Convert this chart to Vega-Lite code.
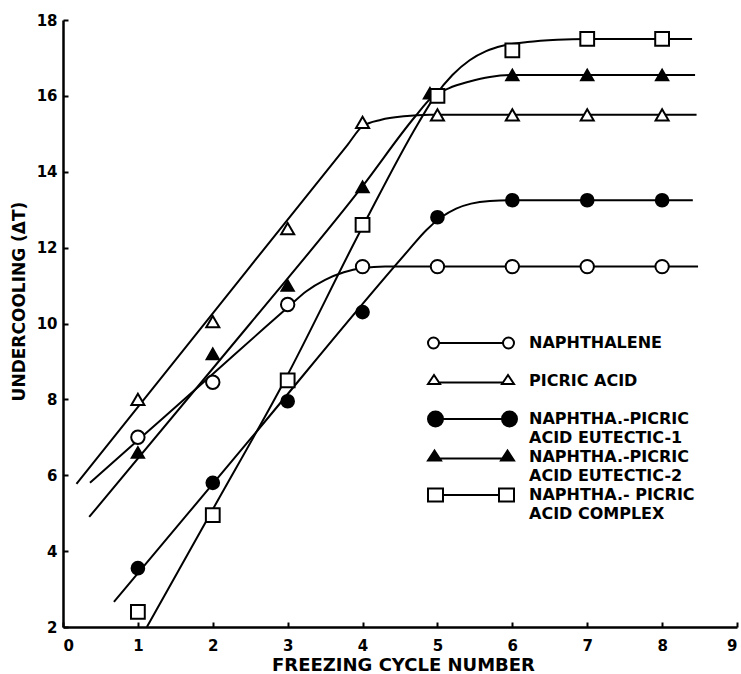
{
  "$schema": "https://vega.github.io/schema/vega-lite/v6.json",
  "width": 674,
  "height": 607,
  "autosize": "none",
  "padding": {"left": 63, "top": 20, "right": 4, "bottom": 47},
  "background": "white",
  "config": {
    "view": {"stroke": null},
    "style": {"guide-label": {"lineHeight": 19}},
    "axis": {
      "domainColor": "black", "domainWidth": 2.5, "tickColor": "black", "tickWidth": 2, "tickSize": -5,
      "labelFont": "DejaVu Sans", "labelFontWeight": "bold", "labelFontSize": 15, "labelColor": "black",
      "titleFont": "DejaVu Sans", "titleFontWeight": "bold", "titleFontSize": 17, "titleColor": "black", "grid": false
    }
  },
  "encoding": {
    "x": {"field": "cycle", "type": "quantitative", "scale": {"domain": [0, 9], "nice": false},
      "axis": {"title": "FREEZING CYCLE NUMBER", "values": [0,1,2,3,4,5,6,7,8,9], "labelPadding": 16,
        "titleX": 340, "titleY": 38, "titleBaseline": "middle", "titleAlign": "center", "titleFontSize": 18}},
    "y": {"field": "dt", "type": "quantitative", "scale": {"domain": [2, 18], "nice": false},
      "axis": {"title": "UNDERCOOLING (ΔT)", "values": [2,4,6,8,10,12,14,16,18], "labelPadding": 11,
        "titleX": -44, "titleY": 281, "titleBaseline": "middle", "titleAlign": "center", "titleAngle": -90}}
  },
  "layer": [
    {
      "data": {"values": [
        {"series": "naph", "cycle": 0.36, "dt": 5.8},
        {"series": "naph", "cycle": 1, "dt": 6.92},
        {"series": "naph", "cycle": 2, "dt": 8.67},
        {"series": "naph", "cycle": 2.7, "dt": 9.9},
        {"series": "naph", "cycle": 3, "dt": 10.42},
        {"series": "naph", "cycle": 3.25, "dt": 10.85},
        {"series": "naph", "cycle": 3.5, "dt": 11.15},
        {"series": "naph", "cycle": 3.75, "dt": 11.35},
        {"series": "naph", "cycle": 4, "dt": 11.46},
        {"series": "naph", "cycle": 4.3, "dt": 11.5},
        {"series": "naph", "cycle": 8.48, "dt": 11.5},
        {"series": "picric", "cycle": 0.18, "dt": 5.77},
        {"series": "picric", "cycle": 2, "dt": 10.27},
        {"series": "picric", "cycle": 3.8, "dt": 14.71},
        {"series": "picric", "cycle": 4, "dt": 15.2},
        {"series": "picric", "cycle": 4.25, "dt": 15.37},
        {"series": "picric", "cycle": 4.55, "dt": 15.46},
        {"series": "picric", "cycle": 4.9, "dt": 15.5},
        {"series": "picric", "cycle": 8.46, "dt": 15.5},
        {"series": "eut1", "cycle": 0.68, "dt": 2.66},
        {"series": "eut1", "cycle": 2.5, "dt": 6.95},
        {"series": "eut1", "cycle": 4.6, "dt": 11.9},
        {"series": "eut1", "cycle": 4.85, "dt": 12.46},
        {"series": "eut1", "cycle": 5.05, "dt": 12.8},
        {"series": "eut1", "cycle": 5.25, "dt": 13.03},
        {"series": "eut1", "cycle": 5.45, "dt": 13.16},
        {"series": "eut1", "cycle": 5.7, "dt": 13.23},
        {"series": "eut1", "cycle": 6, "dt": 13.25},
        {"series": "eut1", "cycle": 8.41, "dt": 13.25},
        {"series": "eut2", "cycle": 0.35, "dt": 4.9},
        {"series": "eut2", "cycle": 2.5, "dt": 10.0},
        {"series": "eut2", "cycle": 4, "dt": 13.62},
        {"series": "eut2", "cycle": 4.7, "dt": 15.45},
        {"series": "eut2", "cycle": 4.92, "dt": 15.95},
        {"series": "eut2", "cycle": 5.15, "dt": 16.2},
        {"series": "eut2", "cycle": 5.43, "dt": 16.38},
        {"series": "eut2", "cycle": 5.7, "dt": 16.5},
        {"series": "eut2", "cycle": 6, "dt": 16.55},
        {"series": "eut2", "cycle": 8.44, "dt": 16.55},
        {"series": "complex", "cycle": 1.12, "dt": 2.0},
        {"series": "complex", "cycle": 2, "dt": 5.1},
        {"series": "complex", "cycle": 2.96, "dt": 8.5},
        {"series": "complex", "cycle": 4, "dt": 12.55},
        {"series": "complex", "cycle": 4.75, "dt": 15.3},
        {"series": "complex", "cycle": 4.97, "dt": 16.0},
        {"series": "complex", "cycle": 5.2, "dt": 16.55},
        {"series": "complex", "cycle": 5.43, "dt": 16.94},
        {"series": "complex", "cycle": 5.65, "dt": 17.18},
        {"series": "complex", "cycle": 5.87, "dt": 17.32},
        {"series": "complex", "cycle": 6.2, "dt": 17.42},
        {"series": "complex", "cycle": 6.6, "dt": 17.48},
        {"series": "complex", "cycle": 7, "dt": 17.5},
        {"series": "complex", "cycle": 8.4, "dt": 17.5}
      ]},
      "mark": {"type": "line", "interpolate": "monotone", "color": "black", "strokeWidth": 2},
      "encoding": {"detail": {"field": "series"}}
    },
    {
      "data": {"values": [
        {"series": "naph", "cycle": 1, "dt": 7.0},
        {"series": "naph", "cycle": 2, "dt": 8.45},
        {"series": "naph", "cycle": 3, "dt": 10.5},
        {"series": "naph", "cycle": 4, "dt": 11.5},
        {"series": "naph", "cycle": 5, "dt": 11.5},
        {"series": "naph", "cycle": 6, "dt": 11.5},
        {"series": "naph", "cycle": 7, "dt": 11.5},
        {"series": "naph", "cycle": 8, "dt": 11.5},
        {"series": "picric", "cycle": 1, "dt": 8.0},
        {"series": "picric", "cycle": 2, "dt": 10.05},
        {"series": "picric", "cycle": 3, "dt": 12.5},
        {"series": "picric", "cycle": 4, "dt": 15.3},
        {"series": "picric", "cycle": 5, "dt": 15.5},
        {"series": "picric", "cycle": 6, "dt": 15.5},
        {"series": "picric", "cycle": 7, "dt": 15.5},
        {"series": "picric", "cycle": 8, "dt": 15.5},
        {"series": "eut1", "cycle": 1, "dt": 3.55},
        {"series": "eut1", "cycle": 2, "dt": 5.8},
        {"series": "eut1", "cycle": 3, "dt": 7.95},
        {"series": "eut1", "cycle": 4, "dt": 10.3},
        {"series": "eut1", "cycle": 5, "dt": 12.8},
        {"series": "eut1", "cycle": 6, "dt": 13.25},
        {"series": "eut1", "cycle": 7, "dt": 13.25},
        {"series": "eut1", "cycle": 8, "dt": 13.25},
        {"series": "eut2", "cycle": 1, "dt": 6.6},
        {"series": "eut2", "cycle": 2, "dt": 9.2},
        {"series": "eut2", "cycle": 3, "dt": 11.0},
        {"series": "eut2", "cycle": 4, "dt": 13.6},
        {"series": "eut2", "cycle": 4.9, "dt": 16.07},
        {"series": "eut2", "cycle": 6, "dt": 16.55},
        {"series": "eut2", "cycle": 7, "dt": 16.55},
        {"series": "eut2", "cycle": 8, "dt": 16.55},
        {"series": "complex", "cycle": 1, "dt": 2.4},
        {"series": "complex", "cycle": 2, "dt": 4.95},
        {"series": "complex", "cycle": 3, "dt": 8.5},
        {"series": "complex", "cycle": 4, "dt": 12.6},
        {"series": "complex", "cycle": 5, "dt": 16.0},
        {"series": "complex", "cycle": 6, "dt": 17.2},
        {"series": "complex", "cycle": 7, "dt": 17.5},
        {"series": "complex", "cycle": 8, "dt": 17.5}
      ]},
      "mark": {"type": "point", "filled": true, "stroke": "black", "strokeWidth": 2, "opacity": 1},
      "encoding": {
        "shape": {"field": "series", "type": "nominal", "legend": null,
          "scale": {"domain": ["picric","naph","eut1","eut2","complex"], "range": ["triangle-up","circle","circle","triangle-up","square"]}},
        "size": {"field": "series", "type": "nominal", "legend": null,
          "scale": {"domain": ["complex","naph","picric","eut1","eut2"], "range": [190, 150, 110, 230, 150]}},
        "fill": {"field": "series", "type": "nominal",
          "scale": {"domain": ["naph","picric","eut1","eut2","complex"], "range": ["white","white","black","black","white"]},
          "legend": {
            "title": null, "orient": "none", "legendX": 364, "legendY": 312, "padding": 0,
            "gridAlign": "all", "rowPadding": -1.5, "labelOffset": 80, "labelLimit": 0,
            "symbolSize": 400, "symbolStrokeWidth": 2, "symbolStrokeColor": "black",
            "symbolType": {"expr": "datum.value == 'naph' ? 'M0.1,0L6.5,0M-1,0A0.55,0.55,0,1,1,0.1,0A0.55,0.55,0,1,1,-1,0ZM6.5,0A0.55,0.55,0,1,1,7.6,0A0.55,0.55,0,1,1,6.5,0Z' : datum.value == 'picric' ? 'M0.1,0.15L6.5,0.15M-1,0.3L-0.4,-0.6L0.2,0.3ZM6.4,0.3L7,-0.6L7.6,0.3Z' : datum.value == 'eut1' ? 'M0.5,0L6.4,0M-1,0A0.75,0.75,0,1,1,0.5,0A0.75,0.75,0,1,1,-1,0ZM6.4,0A0.75,0.75,0,1,1,7.9,0A0.75,0.75,0,1,1,6.4,0Z' : datum.value == 'eut2' ? 'M0,0.15L6.6,0.15M-1,0.35L-0.35,-0.65L0.3,0.35ZM6.3,0.35L6.95,-0.65L7.6,0.35Z' : 'M0.5,0L6.1,0M-1,-0.65L0.5,-0.65L0.5,0.65L-1,0.65ZM6.1,-0.65L7.6,-0.65L7.6,0.65L6.1,0.65Z'"},
            "labelFont": "DejaVu Sans", "labelFontWeight": "bold", "labelFontSize": 16, "labelColor": "black",
            "labelExpr": "datum.value == 'naph' ? 'NAPHTHALENE' : datum.value == 'picric' ? 'PICRIC ACID' : datum.value == 'eut1' ? ['NAPHTHA.-PICRIC', 'ACID EUTECTIC-1'] : datum.value == 'eut2' ? ['NAPHTHA.-PICRIC', 'ACID EUTECTIC-2'] : ['NAPHTHA.- PICRIC', 'ACID COMPLEX']"
          }
        }
      }
    }
  ]
}
